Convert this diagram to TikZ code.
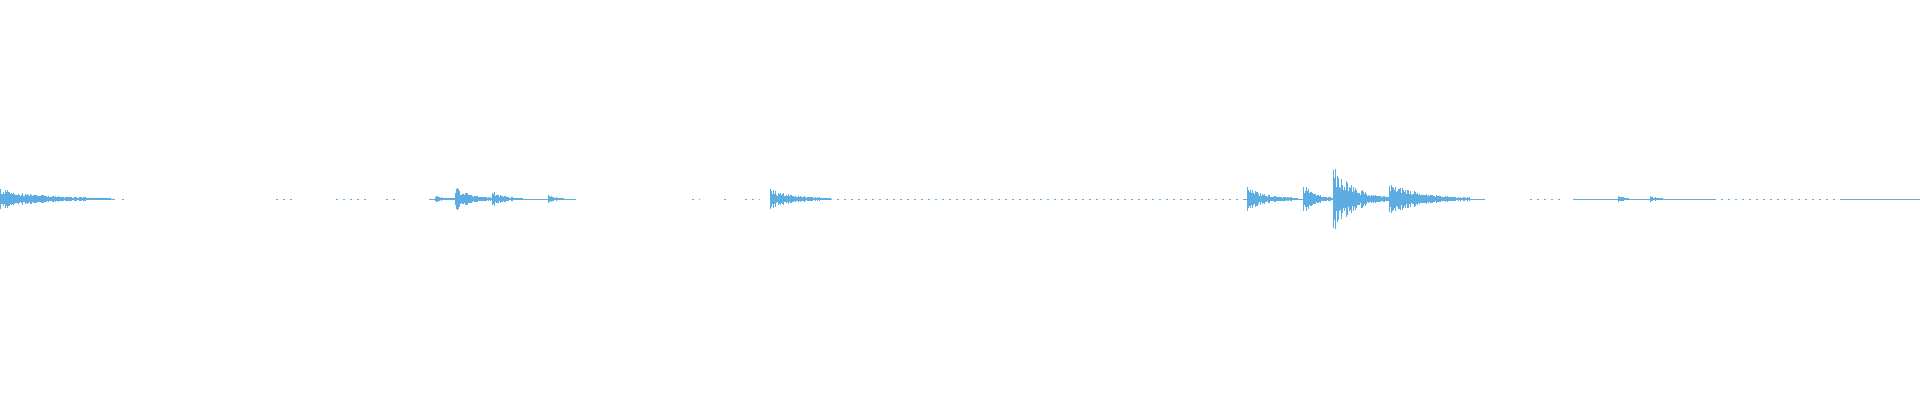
\documentclass[tikz,border=0pt]{standalone}
\usepackage{tikz}
\definecolor{wavecol}{RGB}{93,173,226}
\tikzset{
  wave/.style={draw=wavecol, line width=1pt},
  base/.style={draw=wavecol, line width=1pt},
  gappy/.style={base, dash pattern=on 2pt off 5pt},
}
% one decaying burst: start, amplitude, length
\newcommand\burst[3]{%
  \foreach \i in {0,...,#3}{%
    \pgfmathsetmacro\h{#2*exp(-3*\i/#3)*(0.35+0.65*rnd)+0.8}
    \draw[wave] (#1+\i,199-\h) -- (#1+\i,199+\h);
  }}
\begin{document}
\begin{tikzpicture}[x=1pt,y=-1pt]
    \pgfmathsetseed{7}
    \useasboundingbox (0,0) rectangle (1920,400);
    % baselines
    \draw[base]  (0,199) -- (115,199);
    \draw[base]  (429,199) -- (576,199);
    \draw[base]  (771,199) -- (830,199);
    \draw[gappy] (830,199) -- (1245,199);
    \draw[base]  (1245,199) -- (1485,199);
    \draw[base]  (1573,199) -- (1714,199);
    \draw[gappy] (1714,199) -- (1840,199);
    \draw[base]  (1840,199) -- (1920,199);
    \draw[gappy] (1530,199) -- (1560,199);
    \draw[gappy] (122,199) -- (126,199);
    \draw[gappy] (276,199) -- (292,199);
    \draw[gappy] (336,199) -- (368,199);
    \draw[gappy] (386,199) -- (395,199);
    \draw[gappy] (692,199) -- (700,199);
    \draw[gappy] (724,199) -- (728,199);
    \draw[gappy] (745,199) -- (760,199);
    % bursts
    \burst{0}{10}{110}
    \burst{435}{3}{20}
    \burst{455}{13}{40}
    \burst{492}{8}{30}
    \burst{548}{4}{15}
    \burst{770}{10}{60}
    \burst{1247}{12}{50}
    \burst{1303}{16}{30}
    \burst{1333}{34}{60}
    \burst{1389}{18}{80}
    \burst{1618}{5}{10}
    \burst{1650}{3}{12}
\end{tikzpicture}
\end{document}
